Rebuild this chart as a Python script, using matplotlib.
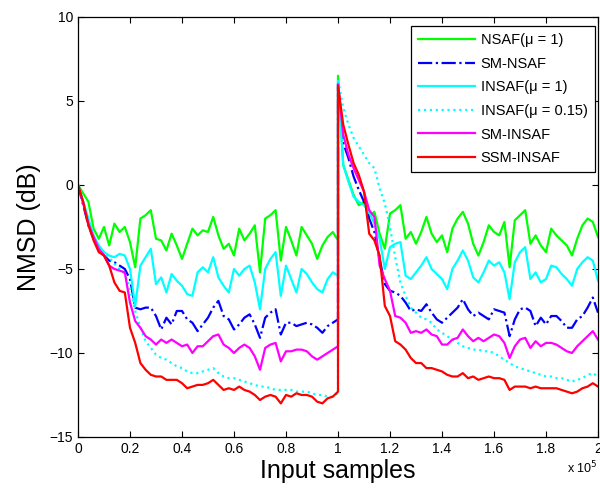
import numpy as np
import matplotlib
matplotlib.use('Agg')
import matplotlib.pyplot as plt
from matplotlib.ticker import FuncFormatter

plt.rcParams['font.family'] = ['Liberation Sans', 'DejaVu Sans']

# sample grid: two 1e5-sample segments, system change at 1e5
x_first = np.linspace(0, 1e5, 51)
x_second = np.linspace(1e5, 2e5, 51)

# NMSD (dB), every 2000 samples
nsaf_first = [0, -0.5, -1.0, -2.6, -3.2, -2.5, -3.6, -2.3, -2.8, -2.5,
              -3.4, -4.9, -2.0, -1.8, -1.5, -3.2, -3.3, -3.9, -2.9, -3.6,
              -4.4, -3.5, -2.6, -3.0, -2.7, -2.8, -1.9, -3.0, -3.8, -3.5,
              -4.2, -2.6, -3.3, -2.9, -2.4, -5.2, -2.0, -1.8, -1.5, -4.5,
              -2.5, -3.3, -4.2, -2.5, -3.0, -3.5, -4.4, -3.6, -3.1, -2.8, -3.3]
nsaf_second = [6.5, 1.2, 0.3, -0.6, -1.2, -1.0, -1.9, -1.6, -2.9, -3.8,
               -1.7, -1.5, -1.2, -3.2, -2.8, -3.5, -2.8, -1.9, -2.9, -3.4,
               -3.0, -4.0, -2.6, -2.0, -1.6, -2.3, -3.5, -4.2, -3.4, -2.4,
               -2.8, -3.0, -2.2, -4.9, -2.1, -1.8, -1.5, -3.5, -3.0, -3.6,
               -4.0, -2.6, -3.0, -3.3, -3.6, -4.2, -3.2, -2.4, -2.0, -2.2, -3.1]

smnsaf_first = [0, -1.2, -2.4, -3.2, -3.8, -4.2, -4.5, -4.6, -4.8, -5.0,
                -5.6, -7.3, -7.4, -7.3, -7.3, -7.8, -8.6, -7.9, -8.3, -7.5,
                -7.5, -8.0, -8.2, -8.7, -8.3, -7.9, -7.3, -6.9, -7.8, -8.0,
                -8.6, -8.3, -7.9, -7.7, -8.3, -9.1, -7.9, -7.6, -7.4, -8.9,
                -8.2, -8.2, -8.4, -8.3, -8.2, -8.3, -8.5, -8.8, -8.4, -8.2, -8.0]
smnsaf_second = [6.0, 2.5, 1.6, 0.5, -0.3, -1.0, -2.0, -2.8, -4.4, -5.9,
                 -6.3, -6.4, -6.6, -7.0, -7.5, -7.4, -7.5, -7.1, -7.6, -8.0,
                 -8.2, -7.9, -7.6, -7.3, -6.8, -7.4, -7.8, -7.6, -7.8, -8.0,
                 -7.4, -7.5, -7.6, -9.0, -8.0, -7.4, -7.3, -7.5, -8.4, -7.9,
                 -8.3, -7.8, -7.8, -8.1, -8.5, -8.5, -8.0, -7.8, -7.3, -6.7, -7.6]

insaf1_first = [0, -1.0, -2.0, -3.0, -3.6, -4.0, -4.2, -4.3, -4.1, -4.2,
                -5.0, -7.2, -4.8, -4.3, -3.8, -5.9, -5.5, -6.4, -5.3, -5.7,
                -6.0, -6.5, -6.6, -5.2, -4.9, -5.2, -4.3, -5.5, -6.0, -6.4,
                -5.0, -5.4, -5.0, -4.8, -5.8, -7.4, -5.0, -4.4, -4.0, -6.6,
                -4.8, -5.6, -6.4, -5.0, -5.3, -5.8, -6.2, -6.4, -5.6, -5.2, -5.4]
insaf1_second = [6.2, 1.2, 0.2, -0.7, -1.0, -1.2, -1.6, -2.3, -3.2, -5.0,
                 -3.7, -3.5, -3.4, -5.4, -5.6, -5.2, -4.8, -4.3, -5.0, -5.3,
                 -5.6, -6.2, -5.0, -4.5, -3.9, -4.5, -5.5, -5.8, -5.2, -4.5,
                 -4.8, -4.6, -5.2, -6.8, -4.6, -4.0, -3.7, -5.6, -5.2, -5.8,
                 -5.6, -4.8, -4.9, -5.3, -5.6, -6.0, -5.0, -4.6, -4.3, -4.5, -5.7]

insaf015_first = [0, -1.0, -2.2, -3.1, -3.7, -4.0, -4.3, -4.7, -5.0, -5.3,
                  -6.2, -7.5, -8.5, -9.3, -9.7, -10.1, -10.3, -10.4, -10.6, -10.8,
                  -10.9, -11.1, -11.2, -11.2, -11.1, -11.0, -10.9, -11.2, -11.4, -11.5,
                  -11.5, -11.6, -11.7, -11.8, -11.9, -12.0, -12.0, -12.1, -12.2, -12.2,
                  -12.2, -12.2, -12.3, -12.3, -12.3, -12.4, -12.5, -12.5, -12.6, -12.6, -12.4]
insaf015_second = [6.3, 4.6, 3.6, 2.8, 2.3, 1.8, 1.3, 1.0, -0.2, -1.1,
                   -2.5, -4.3, -5.8, -6.6, -7.3, -7.6, -7.9, -8.0, -8.2, -8.6,
                   -8.8, -9.0, -9.2, -9.4, -9.6, -9.7, -9.8, -9.8, -9.9, -9.9,
                   -10.0, -10.2, -10.4, -10.6, -10.8, -10.9, -11.0, -11.1, -11.2, -11.3,
                   -11.4, -11.4, -11.5, -11.5, -11.6, -11.7, -11.6, -11.5, -11.3, -11.2, -11.4]

sminsaf_first = [0, -1.1, -2.3, -3.1, -3.8, -4.2, -4.8, -5.0, -5.1, -5.2,
                 -7.0, -8.1, -8.5, -9.0, -9.2, -9.5, -9.2, -9.4, -9.2, -9.4,
                 -9.6, -9.5, -10.0, -9.6, -9.6, -9.3, -9.0, -8.9, -9.5, -9.7,
                 -10.0, -9.7, -9.5, -9.7, -10.2, -11.0, -9.7, -9.5, -9.4, -10.5,
                 -9.9, -9.9, -9.8, -9.8, -9.9, -10.2, -10.4, -10.2, -10.0, -9.8, -9.6]
sminsaf_second = [6.0, 3.0, 1.8, 1.0, 0.3, -0.4, -1.5, -1.9, -4.8, -5.6,
                  -6.3, -7.8, -7.9, -8.2, -8.8, -8.7, -8.8, -8.6, -8.9, -9.0,
                  -9.5, -9.5, -9.2, -9.1, -8.6, -9.0, -9.3, -9.1, -9.3, -9.1,
                  -8.9, -9.0, -9.4, -10.3, -9.6, -9.2, -9.1, -9.7, -9.3, -9.6,
                  -9.4, -9.4, -9.5, -9.7, -9.9, -10.0, -9.6, -9.3, -9.0, -8.7, -9.2]

ssminsaf_first = [0, -1.0, -2.4, -3.3, -4.0, -4.2, -4.8, -5.8, -6.3, -6.4,
                  -8.5, -9.4, -10.6, -11.0, -11.3, -11.4, -11.4, -11.6, -11.6, -11.6,
                  -11.8, -12.1, -12.0, -11.9, -11.9, -11.8, -11.6, -11.9, -12.2, -12.1,
                  -12.2, -12.0, -12.2, -12.3, -12.5, -12.8, -12.6, -12.5, -12.6, -13.0,
                  -12.5, -12.6, -12.4, -12.5, -12.5, -12.6, -12.9, -13.0, -12.7, -12.6, -12.3]
ssminsaf_second = [5.9, 3.6, 2.4, 1.3, 0.6, -0.4, -2.9, -3.3, -4.2, -7.2,
                   -7.8, -9.3, -9.5, -9.8, -10.3, -10.6, -10.6, -10.9, -10.9, -11.0,
                   -11.1, -11.3, -11.4, -11.4, -11.2, -11.5, -11.4, -11.6, -11.5, -11.4,
                   -11.5, -11.5, -11.6, -12.2, -12.0, -12.0, -12.0, -12.1, -12.0, -12.1,
                   -12.1, -12.1, -12.1, -12.2, -12.3, -12.4, -12.3, -12.1, -12.0, -11.8, -12.0]

series = [
    ('NSAF(\u03bc = 1)', nsaf_first, nsaf_second, '#00FF00', '-'),
    ('SM-NSAF', smnsaf_first, smnsaf_second, '#0000FF', '-.'),
    ('INSAF(\u03bc = 1)', insaf1_first, insaf1_second, '#00FFFF', '-'),
    ('INSAF(\u03bc = 0.15)', insaf015_first, insaf015_second, '#00FFFF', ':'),
    ('SM-INSAF', sminsaf_first, sminsaf_second, '#FF00FF', '-'),
    ('SSM-INSAF', ssminsaf_first, ssminsaf_second, '#FF0000', '-'),
]

fig = plt.figure(figsize=(6.0, 4.96), dpi=100)
ax = fig.add_axes([0.13, 0.119, 0.8667, 0.8468])

x_all = np.concatenate([x_first, x_second])
for label, first, second, color, ls in series:
    y_all = np.concatenate([first, second])
    ax.plot(x_all, y_all, color=color, linestyle=ls, linewidth=1.6, label=label)

ax.set_xlim(0, 2e5)
ax.set_ylim(-15, 10)
ax.set_xticks(np.arange(0, 2.01e5, 0.2e5))
ax.set_yticks([-15, -10, -5, 0, 5, 10])
ax.xaxis.set_major_formatter(FuncFormatter(lambda v, p: '%g' % (v / 1e5)))
ax.tick_params(direction='in', top=True, right=True, labelsize=10, length=4, width=0.8)
for s in ax.spines.values():
    s.set_linewidth(0.9)

ax.set_xlabel('Input samples', fontsize=18, labelpad=2)
ax.set_ylabel('NMSD (dB)', fontsize=18, labelpad=6)
ax.text(1.0, -0.074, 'x 10$^5$', transform=ax.transAxes, ha='right', va='center', fontsize=9)

leg = ax.legend(loc='upper right', bbox_to_anchor=(0.994, 0.979), borderaxespad=0,
                fontsize=10.5, handlelength=3.9, labelspacing=0.66, borderpad=0.5,
                handletextpad=0.4, fancybox=False, framealpha=1, edgecolor='black')
leg.get_frame().set_linewidth(0.9)

fig.savefig('out.png', dpi=100)
